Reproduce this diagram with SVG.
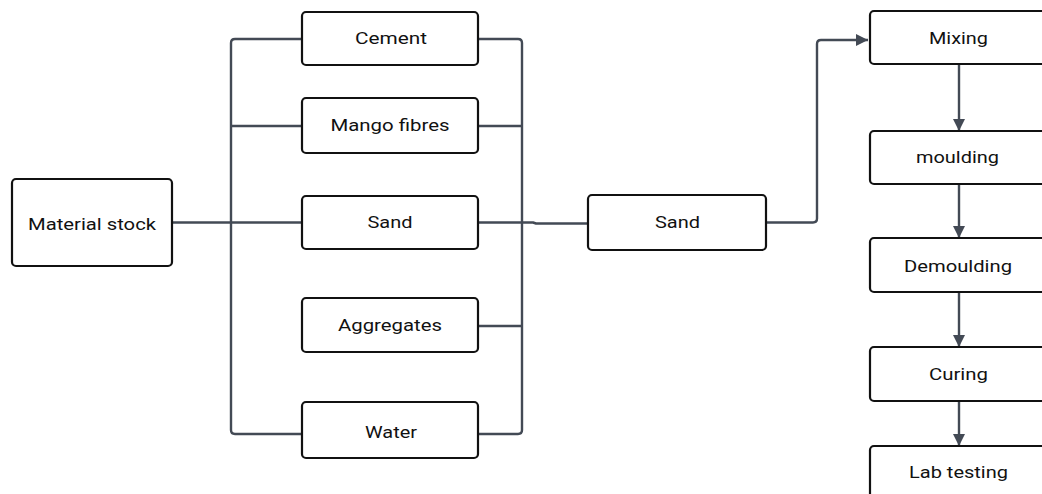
<svg xmlns="http://www.w3.org/2000/svg" width="1042" height="494" viewBox="0 0 1042 494">
<style>
.box{fill:#fff;stroke:#111;stroke-width:2.2}
.t{font-family:Roboto,"Liberation Sans",sans-serif;font-size:16px;fill:#111;text-anchor:middle}
.c{fill:none;stroke:#434a55;stroke-width:2.4;stroke-linejoin:round}
</style>
<defs>
<marker id="ah" viewBox="0 0 12 12" refX="12" refY="6" markerWidth="12" markerHeight="12" markerUnits="userSpaceOnUse" orient="auto">
<path d="M0,0 L12,6 L0,12 Z" fill="#434a55"/>
</marker>
</defs>
<rect width="1042" height="494" fill="#fff"/>
<g id="connectors">
<path class="c" d="M172,222.5 H303"/>
<path class="c" d="M302,39 H235 Q231,39 231,43 V430 Q231,434 235,434 H302"/>
<path class="c" d="M231,126 H302"/>
<path class="c" d="M478,39 H518 Q522,39 522,43 V430 Q522,434 518,434 H478"/>
<path class="c" d="M478,126 H522"/>
<path class="c" d="M478,326 H522"/>
<path class="c" d="M478,222.5 H533 L536,223.5 H588"/>
<path class="c" d="M766,222.5 H813 Q817,222.5 817,218.5 V44 Q817,40 821,40 H868" marker-end="url(#ah)"/>
<path class="c" d="M959,64 V131" marker-end="url(#ah)"/>
<path class="c" d="M959,184 V238" marker-end="url(#ah)"/>
<path class="c" d="M959,292 V347" marker-end="url(#ah)"/>
<path class="c" d="M959,401 V446" marker-end="url(#ah)"/>
</g>
<g id="material-stock"><rect class="box" x="12" y="179" width="160" height="87" rx="4"/><text class="t" x="92" y="230" textLength="128" lengthAdjust="spacingAndGlyphs">Material stock</text></g>
<g id="cement"><rect class="box" x="302" y="12" width="176" height="53" rx="4"/><text class="t" x="391" y="44" textLength="72" lengthAdjust="spacingAndGlyphs">Cement</text></g>
<g id="mango-fibres"><rect class="box" x="302" y="98" width="176" height="55" rx="4"/><text class="t" x="390" y="130.5" textLength="119" lengthAdjust="spacingAndGlyphs">Mango fibres</text></g>
<g id="sand-1"><rect class="box" x="302" y="196" width="176" height="53" rx="4"/><text class="t" x="390" y="227.5" textLength="45" lengthAdjust="spacingAndGlyphs">Sand</text></g>
<g id="aggregates"><rect class="box" x="302" y="298" width="176" height="54" rx="4"/><text class="t" x="390" y="330.5" textLength="104" lengthAdjust="spacingAndGlyphs">Aggregates</text></g>
<g id="water"><rect class="box" x="302" y="402" width="176" height="56" rx="4"/><text class="t" x="391" y="437.5" textLength="52" lengthAdjust="spacingAndGlyphs">Water</text></g>
<g id="sand-2"><rect class="box" x="588" y="195" width="178" height="55" rx="4"/><text class="t" x="677.5" y="228" textLength="45" lengthAdjust="spacingAndGlyphs">Sand</text></g>
<g id="mixing"><rect class="box" x="870" y="11" width="178" height="53" rx="4"/><text class="t" x="958.5" y="44" textLength="59" lengthAdjust="spacingAndGlyphs">Mixing</text></g>
<g id="moulding"><rect class="box" x="870" y="131" width="178" height="53" rx="4"/><text class="t" x="957.5" y="163.3" textLength="83" lengthAdjust="spacingAndGlyphs">moulding</text></g>
<g id="demoulding"><rect class="box" x="870" y="238" width="178" height="54" rx="4"/><text class="t" x="958" y="271.5" textLength="108" lengthAdjust="spacingAndGlyphs">Demoulding</text></g>
<g id="curing"><rect class="box" x="870" y="347" width="178" height="54" rx="4"/><text class="t" x="958.5" y="380" textLength="59" lengthAdjust="spacingAndGlyphs">Curing</text></g>
<g id="lab-testing"><rect class="box" x="870" y="446" width="178" height="60" rx="4"/><text class="t" x="958.5" y="478" textLength="99" lengthAdjust="spacingAndGlyphs">Lab testing</text></g>
</svg>
